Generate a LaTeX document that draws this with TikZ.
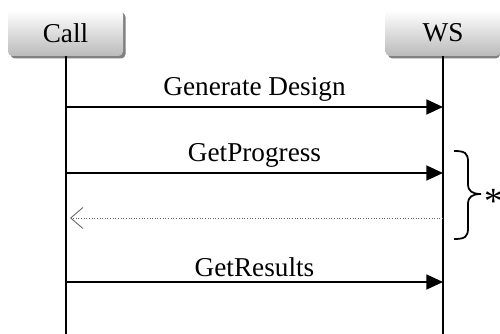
\documentclass[tikz,border=0pt]{standalone}
\usepackage{fontspec}
\setmainfont{Liberation Serif}
\usetikzlibrary{arrows.meta}
\begin{document}
\begin{tikzpicture}[x=0.02cm,y=-0.02cm,
  every node/.style={font=\fontsize{15.5}{18}\selectfont},
  actor/.style={rounded corners=2.5pt, minimum width=115*0.02cm, minimum height=46*0.02cm,
    inner sep=0pt, top color=white, bottom color=black!27, draw=none},
  actorshadow/.style={fill=black!50, rounded corners=2.5pt},
  lifeline/.style={line width=1.1pt},
  msg/.style={line width=1.1pt, -{Triangle[length=9.5pt,width=8.5pt]}},
  reply/.style={densely dotted, line width=0.5pt, gray!80!black, -{Straight Barb[length=7pt,width=12pt,line width=0.5pt]}},
  lbl/.style={above, inner sep=2.5pt}]
\useasboundingbox (0,0) rectangle (500,334);
% shadows behind the participant boxes
\fill[actorshadow] (10.5,12.5) rectangle (125.5,58.5);
\fill[actorshadow] (388,12.5) rectangle (500,58.5);
% participants
\node[actor] (call) at (65.5,33) {Call};
\node[actor] (ws) at (443,33) {WS};
% lifelines
\coordinate (callend) at (66,334);
\coordinate (wsend) at (443,334);
\draw[lifeline] (66,56) -- (callend);
\draw[lifeline] (443,56) -- (wsend);
% message anchors on the lifelines
\coordinate (c1) at (66,107);   \coordinate (w1) at (443,107);
\coordinate (c2) at (66,173);   \coordinate (w2) at (443,173);
\coordinate (c3) at (66,218);   \coordinate (w3) at (443,218);
\coordinate (c4) at (66,282);   \coordinate (w4) at (443,282);
% messages
\draw[msg] (c1) -- node[lbl] (m1) {Generate Design} (w1);
\draw[msg] (c2) -- node[lbl] (m2) {GetProgress} (w2);
\draw[reply] (w3) -- (70,218) coordinate (r3);
\draw[msg] (c4) -- node[lbl] (m4) {GetResults} (w4);
% repeat brace
\coordinate (bt) at (454,151);
\coordinate (bb) at (454,239);
\coordinate (btip) at (481,194);
\draw[line width=1pt]
  (bt) .. controls (465,151) and (468,153) .. (468,162)
  -- (468,184) .. controls (468,191) and (472,194) .. (btip)
  .. controls (472,194) and (468,197) .. (468,204)
  -- (468,228) .. controls (468,237) and (465,239) .. (bb);
\node[anchor=west, inner sep=1pt, font=\fontsize{21}{22}\selectfont] (star) at (482,201) {*};
\end{tikzpicture}
\end{document}
